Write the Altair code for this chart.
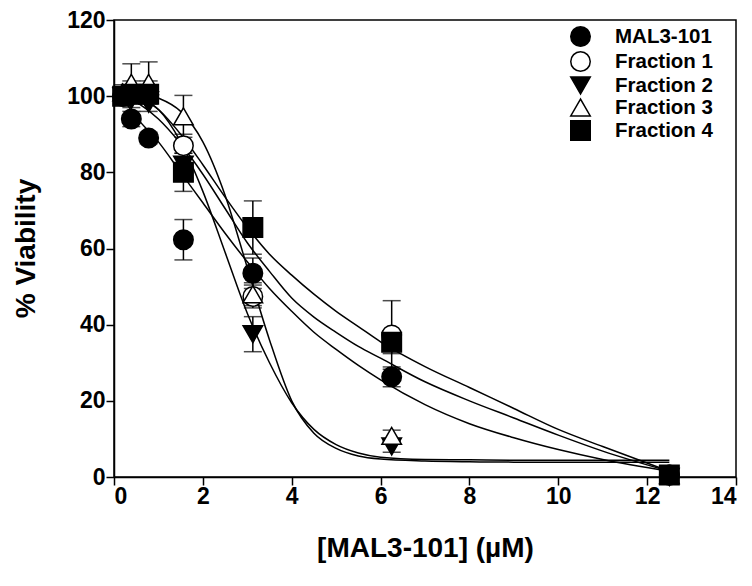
import altair as alt
import pandas as pd

# ---- data ----
series_names = ["MAL3-101", "Fraction 1", "Fraction 2", "Fraction 3", "Fraction 4"]
conc = [0.195, 0.39, 0.78, 1.5625, 3.125, 6.25, 12.5]

mal_y = [100, 94, 89, 62.3, 53.5, 26.3, 0.5]
mal_e = [2, 2, 1.5, 5.3, 4, 2.6, 1]
f1_y = [100, 101, 101, 87, 47.4, 37.3, 0.5]
f1_e = [2, 3, 3, 3, 3, 9, 1]
f2_y = [100, 99, 98, 82, 37.5, 8, 0]
f2_e = [2, 2, 2, 3, 4.6, 1.5, 1]
f3_y = [101, 103.5, 103.5, 94.7, 48, 10.8, 0.5]
f3_e = [2, 5, 5.5, 5.5, 3, 1.5, 1]
f4_y = [100, 100.5, 100.5, 80, 65.5, 35.4, 0.5]
f4_e = [2, 2, 2, 5, 7, 3, 1]

# fitted curves
curve_x = [0.195, 0.5, 1, 1.5, 2, 2.5, 3, 3.5, 4, 4.5, 5, 5.5, 6, 7, 8, 9, 10, 11, 12.5]
mal_c = [99.5, 94.5, 88, 80, 72, 64, 56.5, 49.5, 43.5, 38, 33.5, 29.3, 25.5, 19, 14, 10.3, 7.2, 4.6, 1.5]
f1_c = [100.5, 98.5, 94, 87.5, 79.5, 70.5, 61.5, 54, 47, 42, 38, 34.3, 31.2, 25, 20, 15.5, 11, 6.8, 1.5]
f2_c = [100.5, 99.6, 96.5, 88, 75, 59, 43, 30, 19.5, 12.5, 8.5, 6.3, 5.2, 4.6, 4.5, 4.4, 4.4, 4.4, 4.4]
f3_c = [101, 100.8, 99.5, 96, 88, 74, 55, 36, 20, 11.5, 7.5, 5.5, 4.7, 4.2, 4.0, 3.9, 3.9, 3.9, 3.9]
f4_c = [101, 100, 96.5, 90, 82, 73.5, 65.5, 58.5, 53, 48, 43.5, 39.5, 35.5, 29, 23.5, 18, 12.5, 8, 1.5]

shapes = ["circle", "circle", "triangle-down", "triangle-up", "square"]
fills = ["black", "white", "black", "white", "black"]
strokes = ["black", "black", "black", "black", "black"]

pts_rows = []
for name, ys, es in zip(series_names, [mal_y, f1_y, f2_y, f3_y, f4_y], [mal_e, f1_e, f2_e, f3_e, f4_e]):
    for x, y, e in zip(conc, ys, es):
        pts_rows.append({"series": name, "x": x, "y": y, "lo": y - e, "hi": y + e})
pts = pd.DataFrame(pts_rows)

curve_rows = []
for name, ys in zip(series_names, [mal_c, f1_c, f2_c, f3_c, f4_c]):
    for x, y in zip(curve_x, ys):
        curve_rows.append({"series": name, "x": x, "y": y})
curves = pd.DataFrame(curve_rows)

FONT = "Liberation Sans"

xs = alt.Scale(domain=[0, 14], nice=False, zero=False)
ys_ = alt.Scale(domain=[0, 120], nice=False)

x_axis = alt.Axis(values=[0, 2, 4, 6, 8, 10, 12, 14], title="[MAL3-101] (\u00b5M)", labelPadding=0,
                  titleX=311, titleY=71, titleBaseline="middle", titleAlign="center")
y_axis = alt.Axis(values=[0, 20, 40, 60, 80, 100, 120], title="% Viability", labelPadding=1,
                  titleX=-88, titleY=228, titleBaseline="middle", titleAlign="center", titleAngle=270)

base_x = alt.X("x:Q", scale=xs, axis=x_axis)
base_y = alt.Y("y:Q", scale=ys_, axis=y_axis)

lines = alt.Chart(curves).mark_line(color="black", strokeWidth=1.5, interpolate="monotone").encode(
    x=base_x, y=base_y, detail="series:N"
)

bars = alt.Chart(pts).mark_rule(color="black", strokeWidth=1.5).encode(
    x=alt.X("x:Q", scale=xs), y=alt.Y("lo:Q", scale=ys_), y2="hi:Q"
)
cap_hi = alt.Chart(pts).mark_tick(color="black", orient="horizontal", size=18, thickness=1.5).encode(
    x=alt.X("x:Q", scale=xs), y=alt.Y("hi:Q", scale=ys_)
)
cap_lo = alt.Chart(pts).mark_tick(color="black", orient="horizontal", size=18, thickness=1.5).encode(
    x=alt.X("x:Q", scale=xs), y=alt.Y("lo:Q", scale=ys_)
)

legend = alt.Legend(orient="none", legendX=456, legendY=6, title=None,
                    labelFont=FONT, labelFontWeight="bold", labelFontSize=20.5, labelColor="black",
                    symbolSize=380, symbolStrokeColor="black", symbolStrokeWidth=1.5,
                    labelOffset=24, rowPadding=-2, padding=0)

points = alt.Chart(pts).mark_point(filled=False, size=380, strokeWidth=1.5, opacity=1).encode(
    x=alt.X("x:Q", scale=xs), y=alt.Y("y:Q", scale=ys_),
    shape=alt.Shape("series:N", scale=alt.Scale(domain=series_names, range=shapes), legend=legend),
    fill=alt.Fill("series:N", scale=alt.Scale(domain=series_names, range=fills), legend=legend),
    stroke=alt.Stroke("series:N", scale=alt.Scale(domain=series_names, range=strokes), legend=legend),
)

chart = alt.layer(lines, bars, cap_hi, cap_lo, points).properties(
    width=622, height=457,
    background="white",
    autosize=alt.AutoSizeParams(type="none"),
    padding={"left": 106, "top": 12, "right": 4, "bottom": 90},
).configure_view(stroke="black", strokeWidth=1.5).configure_axis(
    grid=False, domainColor="black", domainWidth=1.5, tickColor="black", tickWidth=1.5, tickSize=8,
    labelFont=FONT, labelFontWeight="bold", labelFontSize=23, labelColor="black",
    titleFont=FONT, titleFontWeight="bold", titleFontSize=28, titleColor="black",
)

chart.save("out.html", embed_options={"renderer": "svg", "actions": False})
